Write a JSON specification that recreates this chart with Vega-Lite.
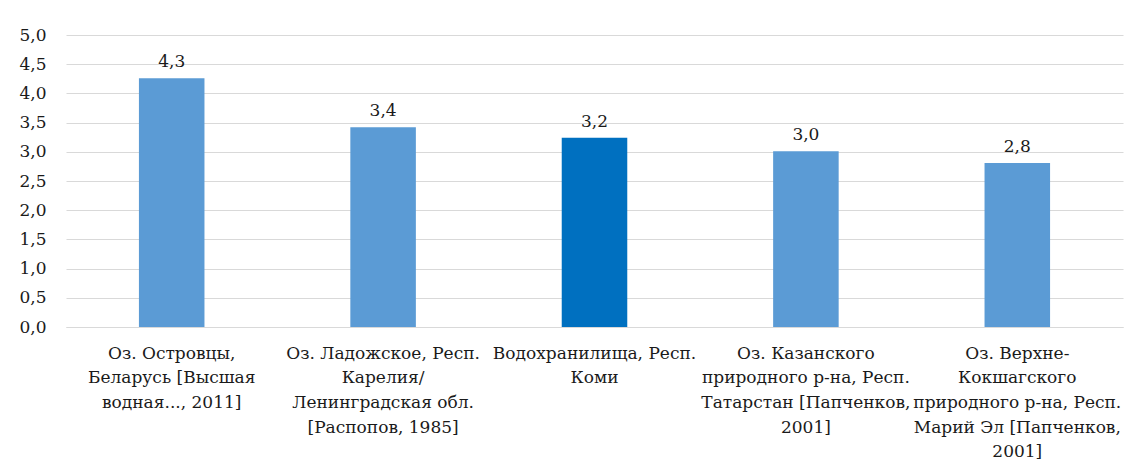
{
  "$schema": "https://vega.github.io/schema/vega-lite/v6.json",
  "width": 1057,
  "height": 292,
  "autosize": {"type": "none"},
  "padding": {"left": 66, "top": 35, "right": 6, "bottom": 141},
  "background": "white",
  "config": {
    "locale": {"number": {"decimal": ",", "thousands": " ", "grouping": [3], "currency": ["", ""]}},
    "view": {"stroke": null},
    "font": "DejaVu Serif"
  },
  "data": {
    "values": [
      {"name": "Оз. Островцы,|Беларусь [Высшая|водная..., 2011]", "value": 4.26, "group": "other"},
      {"name": "Оз. Ладожское, Респ.|Карелия/|Ленинградская обл.|[Распопов, 1985]", "value": 3.42, "group": "other"},
      {"name": "Водохранилища, Респ.|Коми", "value": 3.24, "group": "komi"},
      {"name": "Оз. Казанского|природного р-на, Респ.|Татарстан  [Папченков,|2001]", "value": 3.01, "group": "other"},
      {"name": "Оз. Верхне-|Кокшагского|природного р-на, Респ.|Марий Эл [Папченков,|2001]", "value": 2.81, "group": "other"}
    ]
  },
  "encoding": {
    "x": {
      "field": "name", "type": "nominal", "sort": null,
      "scale": {"paddingInner": 0.69, "paddingOuter": 0.345},
      "axis": {
        "title": null, "labelAngle": 0, "labelExpr": "split(datum.value, '|')",
        "labelFont": "DejaVu Serif", "labelFontSize": 17, "labelColor": "#1a1a1a",
        "labelLineHeight": 24.7, "labelBaseline": "top", "labelPadding": 18,
        "labelLimit": 0, "labelOverlap": false, "ticks": false,
        "domainColor": "#d9d9d9", "domainWidth": 1
      }
    },
    "y": {
      "field": "value", "type": "quantitative",
      "scale": {"domain": [0, 5], "nice": false},
      "axis": {
        "title": null, "values": [0, 0.5, 1, 1.5, 2, 2.5, 3, 3.5, 4, 4.5, 5],
        "format": ".1f", "labelFont": "DejaVu Serif", "labelFontSize": 17,
        "labelColor": "#1a1a1a", "labelPadding": 20, "domain": false, "ticks": false,
        "gridColor": "#d9d9d9", "gridWidth": 1
      }
    }
  },
  "layer": [
    {
      "mark": {"type": "bar"},
      "encoding": {
        "color": {
          "field": "group", "type": "nominal",
          "scale": {"domain": ["other", "komi"], "range": ["#5b9bd5", "#0070c0"]},
          "legend": null
        }
      }
    },
    {
      "mark": {"type": "text", "baseline": "alphabetic", "dy": -11, "fontSize": 17, "font": "DejaVu Serif", "color": "#1a1a1a"},
      "encoding": {
        "text": {"field": "value", "type": "quantitative", "format": ".1f"}
      }
    }
  ]
}
